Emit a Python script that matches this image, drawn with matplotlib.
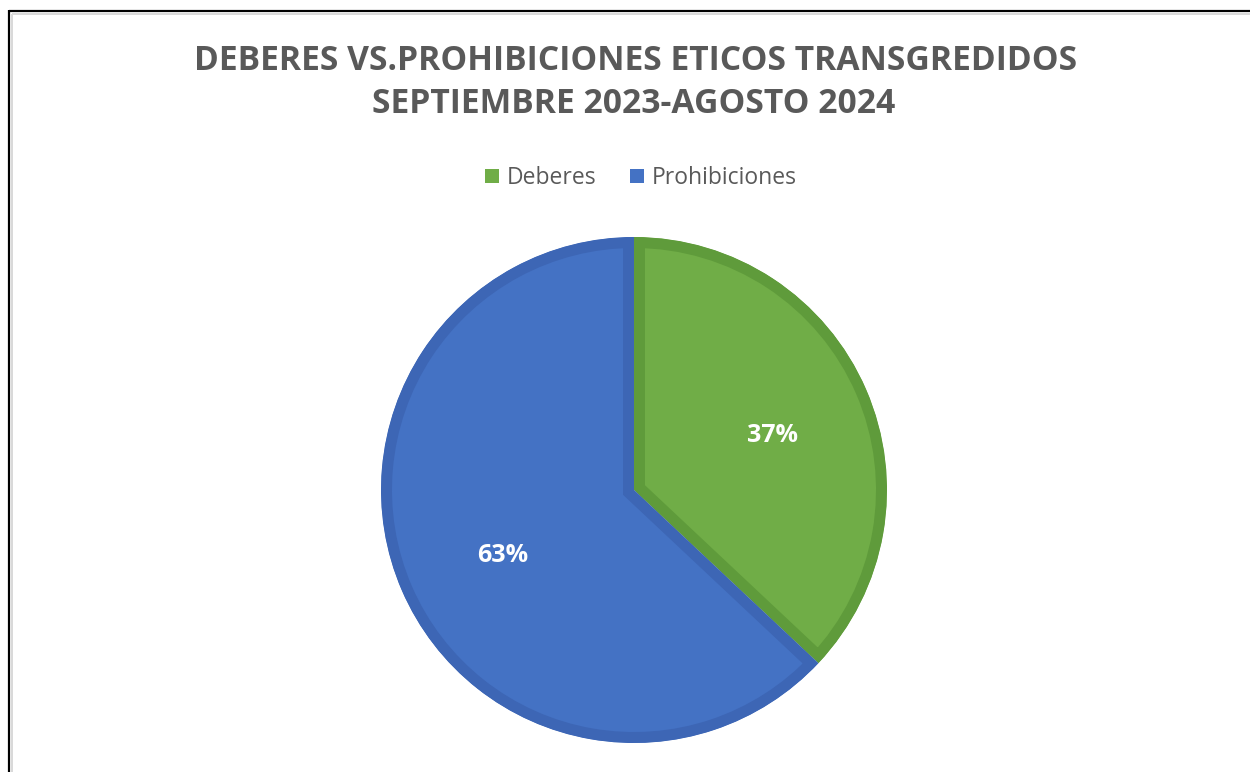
import matplotlib
matplotlib.use("Agg")
import matplotlib.pyplot as plt
from matplotlib.lines import Line2D
from matplotlib.patches import Patch

categories = ["Deberes", "Prohibiciones"]
values = [37, 63]
labels = ["37%", "63%"]
title_line1 = "DEBERES VS.PROHIBICIONES ETICOS TRANSGREDIDOS"
title_line2 = "SEPTIEMBRE 2023-AGOSTO 2024"

fill_colors = ["#70AD47", "#4472C4"]
edge_colors = ["#5F9B3B", "#3D66B5"]

W, H = 1250, 772
DPI = 100
fig = plt.figure(figsize=(W / DPI, H / DPI), dpi=DPI)
fig.patch.set_facecolor("white")

def px(x, y):
    return x / W, 1 - y / H

for (x0, y0, x1, y1, c, lw) in [
    (9, 11, 1260, 11, "black", 2.2),
    (9, 10, 9, 790, "black", 2.2),
    (12, 14, 1260, 14, "#D9D9D9", 2.0),
    (12, 14, 12, 790, "#D9D9D9", 2.0),
]:
    a = px(x0, y0); b = px(x1, y1)
    fig.add_artist(Line2D([a[0], b[0]], [a[1], b[1]], color=c, lw=lw * 72 / DPI,
                          transform=fig.transFigure, solid_capstyle="butt"))

cx, cy, r = 634, 490, 253
ax = fig.add_axes([(cx - r) / W, (H - cy - r) / H, 2 * r / W, 2 * r / H])
wedges, _ = ax.pie(values, colors=fill_colors, startangle=90, counterclock=False,
                   radius=1.0, wedgeprops=dict(linewidth=0))
ax.set_xlim(-1, 1)
ax.set_ylim(-1, 1)
ax.set_aspect("equal")
ax.axis("off")

# inner-stroke borders, clipped to each wedge
for w, ec in zip(wedges, edge_colors):
    w.set_edgecolor(ec)
    w.set_linewidth(22 * 72 / DPI)
    w.set_clip_on(True)
    w.set_clip_path(w.get_path(), w.get_transform())

label_pos = [(773, 435), (503, 556)]
for (lx, ly), t in zip(label_pos, labels):
    fig.text(lx / W, 1 - ly / H, t, ha="center", va="center", color="white",
             fontsize=18, fontweight="bold", family="Open Sans")

fig.text(636 / W, 1 - 61 / H, title_line1, ha="center", va="center",
         color="#595959", fontsize=24.2, fontweight="bold", family="Open Sans")
fig.text(634 / W, 1 - 104 / H, title_line2, ha="center", va="center",
         color="#595959", fontsize=24.2, fontweight="bold", family="Open Sans")

handles = [Patch(facecolor=c, edgecolor="none") for c in fill_colors]
leg = fig.legend(handles, categories, loc="center", bbox_to_anchor=(641 / W, 1 - 178 / H),
                 ncol=2, frameon=False, handlelength=0.62, handleheight=0.62,
                 handletextpad=0.35, columnspacing=1.45,
                 prop=dict(family="Open Sans", size=16.5))
for t in leg.get_texts():
    t.set_color("#595959")

fig.savefig("out.png", dpi=DPI)
